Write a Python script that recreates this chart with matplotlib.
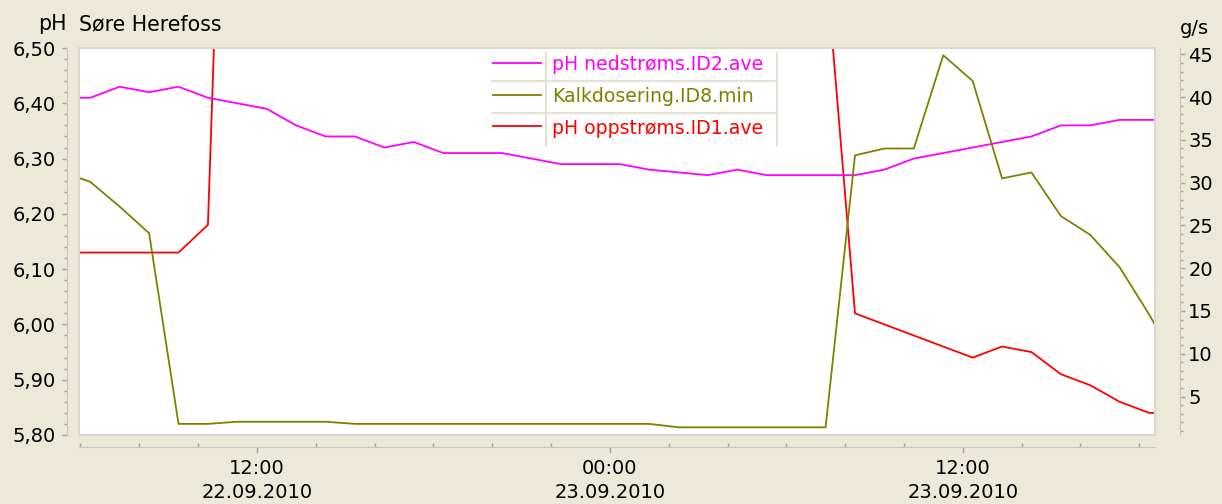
import matplotlib
matplotlib.use('Agg')
import matplotlib.pyplot as plt
import matplotlib.dates as mdates
from matplotlib.ticker import MultipleLocator, FuncFormatter
from matplotlib.patches import Rectangle
from matplotlib.lines import Line2D
import pandas as pd

plt.rcParams['font.family'] = ['DejaVu Sans']

W, H = 1222, 504

# ---- data (hourly samples) ----
times = pd.date_range('2010-09-22 05:20', periods=39, freq='h')

ph_nedstroms = [6.41, 6.41, 6.43, 6.42, 6.43, 6.41, 6.40, 6.39, 6.36, 6.34,
                6.34, 6.32, 6.33, 6.31, 6.31, 6.31, 6.30, 6.29, 6.29, 6.29,
                6.28, 6.275, 6.27, 6.28, 6.27, 6.27, 6.27, 6.27, 6.28, 6.30,
                6.31, 6.32, 6.33, 6.34, 6.36, 6.36, 6.37, 6.37, 6.37]

kalkdosering = [31.3, 30.1, 27.2, 24.1, 1.8, 1.8, 2.05, 2.05, 2.05, 2.05,
                1.8, 1.8, 1.8, 1.8, 1.8, 1.8, 1.8, 1.8, 1.8, 1.8,
                1.8, 1.4, 1.4, 1.4, 1.4, 1.4, 1.4, 33.2, 34.0, 34.0,
                44.9, 41.9, 30.5, 31.2, 26.1, 23.9, 20.1, 14.6, 8.6]

ph_oppstroms = [6.13, 6.13, 6.13, 6.13, 6.13, 6.18, 7.75, 7.6, 7.6, 7.6,
                7.6, 7.6, 7.6, 7.6, 7.6, 7.6, 7.6, 7.6, 7.6, 7.6,
                7.6, 7.6, 7.6, 7.6, 7.6, 7.6, 6.66, 6.02, 6.00, 5.98,
                5.96, 5.94, 5.96, 5.95, 5.91, 5.89, 5.86, 5.84, 5.84]

series_labels = ['pH nedstrøms.ID2.ave', 'Kalkdosering.ID8.min', 'pH oppstrøms.ID1.ave']
series_colors = ['#FF00FF', '#808000', '#FF0000']

ph_ticks = [5.80, 5.90, 6.00, 6.10, 6.20, 6.30, 6.40, 6.50]
gs_ticks = [5, 10, 15, 20, 25, 30, 35, 40, 45]

x_start = pd.Timestamp('2010-09-22 05:57')
x_end = pd.Timestamp('2010-09-23 18:32')

BG = '#ECE9D8'
SPINE = '#C9C6B8'
TICKC = '#A5A29A'


def fx(x):
    return x / W


def fy(y):
    return 1 - y / H


fig = plt.figure(figsize=(W / 100, H / 100), dpi=100, facecolor=BG)
ax = fig.add_axes([fx(79), fy(435), fx(1155) - fx(79), fy(48) - fy(435)])
ax.set_facecolor('white')
ax2 = ax.twinx()

ax.plot(times, ph_oppstroms, color=series_colors[2], lw=1.3, zorder=3)
ax.plot(times, ph_nedstroms, color=series_colors[0], lw=1.3, zorder=3)
ax2.plot(times, kalkdosering, color=series_colors[1], lw=1.3, zorder=3)

ax.set_xlim(x_start, x_end)
ax.set_ylim(5.80, 6.50)
ax2.set_ylim(0.5, 45.75)

for a in (ax, ax2):
    for s in a.spines.values():
        s.set_visible(False)
ax.spines['left'].set_visible(True)
ax.spines['left'].set_position(('outward', 8.6))
ax.spines['left'].set_color(SPINE)
ax.spines['bottom'].set_visible(True)
ax.spines['bottom'].set_position(('outward', 8.6))
ax.spines['bottom'].set_color(SPINE)
ax2.spines['right'].set_visible(True)
ax2.spines['right'].set_position(('outward', 18))
ax2.spines['right'].set_color(SPINE)

# left axis ticks
ax.set_yticks(ph_ticks)
ax.yaxis.set_minor_locator(MultipleLocator(0.02))
ax.yaxis.set_major_formatter(FuncFormatter(lambda v, p: f"{v:.2f}".replace('.', ',')))
ax.tick_params(axis='y', which='major', length=3.5, width=1, color=TICKC, labelsize=14, pad=4.5)
ax.tick_params(axis='y', which='minor', length=2, width=1, color=TICKC)

# right axis ticks
ax2.set_yticks(gs_ticks)
ax2.yaxis.set_minor_locator(MultipleLocator(1))
ax2.tick_params(axis='y', which='major', length=3.5, width=1, color=TICKC, labelsize=14, pad=2.5)
ax2.tick_params(axis='y', which='minor', length=2, width=1, color=TICKC)

# x axis ticks
ax.xaxis.set_major_locator(mdates.HourLocator(byhour=[0, 12]))
ax.xaxis.set_minor_locator(mdates.HourLocator(byhour=list(range(0, 24, 2))))
ax.xaxis.set_major_formatter(mdates.DateFormatter('%H:%M\n%d.%m.%Y'))
ax.tick_params(axis='x', which='major', length=4, width=1, color=TICKC, labelsize=14, pad=5)
ax.tick_params(axis='x', which='minor', length=3, width=1, color=TICKC, direction='in')
for lbl in ax.get_xticklabels():
    lbl.set_linespacing(1.3)

# plot frame
ax2.add_patch(Rectangle((0, 0), 1, 1, transform=ax.transAxes, fill=False,
                        edgecolor='#DAD7CC', lw=1.5, clip_on=False, zorder=5))

# titles
fig.text(fx(67), fy(24), 'pH', ha='right', va='center', fontsize=14.8)
fig.text(fx(79), fy(24), 'Søre Herefoss', ha='left', va='center', fontsize=14.8)
fig.text(fx(1194), fy(28), 'g/s', ha='center', va='center', fontsize=14)

# legend (table style)
fig.add_artist(Rectangle((fx(492), fy(146)), fx(777) - fx(492), fy(53) - fy(146),
                         transform=fig.transFigure, facecolor='white', edgecolor='none', zorder=5))
SEP = '#E4E1D5'
for yy in (81, 113):
    fig.add_artist(Line2D([fx(492), fx(777)], [fy(yy), fy(yy)], color=SEP, lw=1.5, zorder=6))
for xx in (546, 777):
    fig.add_artist(Line2D([fx(xx), fx(xx)], [fy(53), fy(146)], color=SEP, lw=1.5, zorder=6))
row_y = [65, 97, 128]
for yy, lab, col in zip(row_y, series_labels, series_colors):
    fig.add_artist(Line2D([fx(493), fx(541)], [fy(yy - 2), fy(yy - 2)], color=col, lw=1.3, zorder=6))
    fig.text(fx(552), fy(yy), lab, ha='left', va='center', fontsize=13.6, color=col, zorder=7)

fig.savefig('out.png', dpi=100, facecolor=BG)
